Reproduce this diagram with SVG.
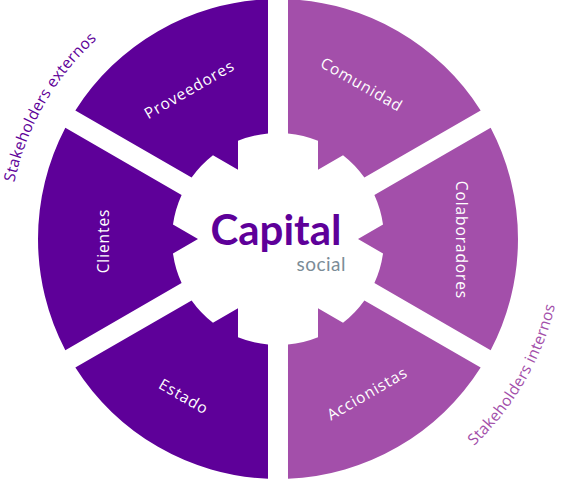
<svg xmlns="http://www.w3.org/2000/svg" width="561" height="479" viewBox="0 0 561 479">
<style>
.dark{fill:#5E0099}
.light{fill:#A34FAA}
.lbl{font-family:"Open Sans","Liberation Sans",sans-serif;font-size:15.5px;fill:#FFFFFF;letter-spacing:0.9px;text-anchor:middle;dominant-baseline:central}
.arc{font-family:"Open Sans","Liberation Sans",sans-serif;font-size:15.5px;letter-spacing:0.3px;text-anchor:middle}
</style>
<defs>
<path id="seg" d="M212.66,-111.23 A240,240 0 0 1 212.66,111.23 L96.39,44.11 A106,106 0 0 0 105.03,14.45 L80,0 L105.03,-14.45 A106,106 0 0 0 96.39,-44.11 Z"/>
<path id="pExt" d="M12.5,285.8 A269.5,269.5 0 0 1 185.8,-14.3" fill="none"/>
<path id="pInt" d="M375.48,506.81 A285,285 0 0 0 558.67,189.51" fill="none"/>
</defs>
<g id="connectors"/>
<g id="comunidad">
<use href="#seg" class="light" transform="translate(278,239) rotate(-60)"/>
<text class="lbl" transform="translate(362,84) rotate(30)">Comunidad</text>
</g>
<g id="proveedores">
<use href="#seg" class="dark" transform="translate(278,239) rotate(-120)"/>
<text class="lbl" transform="translate(189,89) rotate(-30)">Proveedores</text>
</g>
<g id="clientes">
<use href="#seg" class="dark" transform="translate(278,239) rotate(180)"/>
<text class="lbl" transform="translate(103,241) rotate(-90)">Clientes</text>
</g>
<g id="estado">
<use href="#seg" class="dark" transform="translate(278,239) rotate(120)"/>
<text class="lbl" transform="translate(184,396) rotate(30)">Estado</text>
</g>
<g id="accionistas">
<use href="#seg" class="light" transform="translate(278,239) rotate(60)"/>
<text class="lbl" transform="translate(367,393) rotate(-30)">Accionistas</text>
</g>
<g id="colaboradores">
<use href="#seg" class="light" transform="translate(278,239)"/>
<text class="lbl" transform="translate(462,240) rotate(90)">Colaboradores</text>
</g>
<g id="center">
<text x="276" y="245" font-family="Lato,'Liberation Sans',sans-serif" font-weight="700" font-size="42" fill="#5E0099" text-anchor="middle">Capital</text>
<text x="346" y="271" font-family="Lato,'Liberation Sans',sans-serif" font-size="19" fill="#7B8C97" text-anchor="end" letter-spacing="0.5">social</text>
</g>
<g id="stakeholders-externos">
<text class="arc" fill="#5E0099"><textPath href="#pExt" startOffset="50%">Stakeholders externos</textPath></text>
</g>
<g id="stakeholders-internos">
<text class="arc" fill="#A34FAA"><textPath href="#pInt" startOffset="50%">Stakeholders internos</textPath></text>
</g>
</svg>
